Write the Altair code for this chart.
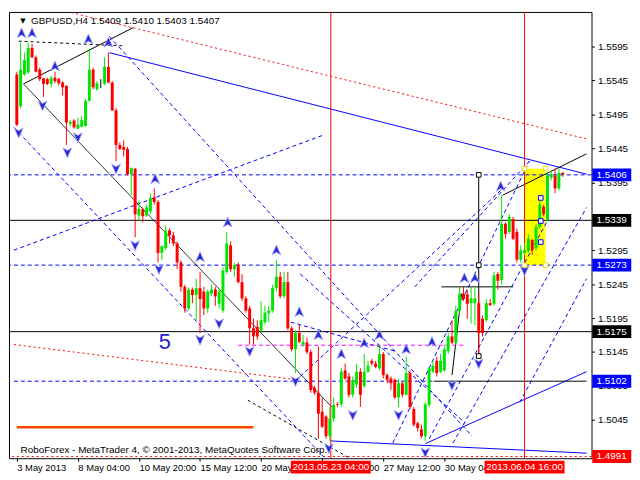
import altair as alt
import pandas as pd

# ---------------- candle data (H4 bars, GBPUSD) ----------------
OPEN = [1.5554, 1.5507, 1.5554, 1.5557, 1.5593, 1.5579, 1.5561, 1.5548, 1.5547, 1.5540,
        1.5549, 1.5547, 1.5542, 1.5537, 1.5481, 1.5486, 1.5474, 1.5477, 1.5478, 1.5515,
        1.5561, 1.5532, 1.5540, 1.5540, 1.5565, 1.5542, 1.5501, 1.5450, 1.5447, 1.5444,
        1.5407, 1.5415, 1.5346, 1.5355, 1.5346, 1.5352, 1.5373, 1.5366, 1.5291, 1.5298,
        1.5324, 1.5317, 1.5305, 1.5277, 1.5241, 1.5209, 1.5237, 1.5229, 1.5239, 1.5234,
        1.5209, 1.5231, 1.5237, 1.5216, 1.5206, 1.5263, 1.5302, 1.5267, 1.5274, 1.5248,
        1.5224, 1.5209, 1.5180, 1.5182, 1.5177, 1.5189, 1.5202, 1.5206, 1.5239, 1.5256,
        1.5227, 1.5248, 1.5180, 1.5149, 1.5173, 1.5156, 1.5159, 1.5145, 1.5092, 1.5085,
        1.5057, 1.5050, 1.5021, 1.5047, 1.5068, 1.5068, 1.5118, 1.5109, 1.5082, 1.5097,
        1.5116, 1.5095, 1.5116, 1.5132, 1.5128, 1.5121, 1.5142, 1.5111, 1.5106, 1.5104,
        1.5078, 1.5099, 1.5082, 1.5114, 1.5061, 1.5040, 1.5031, 1.5021, 1.5067, 1.5116,
        1.5132, 1.5116, 1.5118, 1.5146, 1.5168, 1.5159, 1.5206, 1.5231, 1.5230, 1.5217,
        1.5217, 1.5217, 1.5194, 1.5192, 1.5217, 1.5216, 1.5260, 1.5251, 1.5334, 1.5322,
        1.5341, 1.5322, 1.5281, 1.5291, 1.5294, 1.5310, 1.5298, 1.5329, 1.5359, 1.5341,
        1.5402, 1.5405, 1.5386, 1.5409]
HIGH = [1.5558, 1.5601, 1.5586, 1.5601, 1.5599, 1.5582, 1.5564, 1.5549, 1.5549, 1.5552,
        1.5558, 1.5549, 1.5544, 1.5538, 1.5487, 1.5488, 1.5490, 1.5493, 1.5518, 1.5592,
        1.5564, 1.5544, 1.5547, 1.5579, 1.5586, 1.5544, 1.5504, 1.5454, 1.5457, 1.5447,
        1.5417, 1.5416, 1.5368, 1.5358, 1.5362, 1.5379, 1.5386, 1.5369, 1.5302, 1.5331,
        1.5327, 1.5322, 1.5308, 1.5280, 1.5244, 1.5240, 1.5240, 1.5253, 1.5263, 1.5241,
        1.5237, 1.5244, 1.5241, 1.5239, 1.5270, 1.5322, 1.5308, 1.5277, 1.5277, 1.5260,
        1.5227, 1.5213, 1.5194, 1.5192, 1.5220, 1.5213, 1.5213, 1.5244, 1.5281, 1.5263,
        1.5263, 1.5263, 1.5183, 1.5177, 1.5185, 1.5170, 1.5166, 1.5149, 1.5095, 1.5153,
        1.5078, 1.5052, 1.5064, 1.5078, 1.5071, 1.5121, 1.5128, 1.5114, 1.5109, 1.5128,
        1.5121, 1.5142, 1.5132, 1.5135, 1.5132, 1.5156, 1.5145, 1.5114, 1.5109, 1.5106,
        1.5106, 1.5102, 1.5138, 1.5118, 1.5064, 1.5042, 1.5038, 1.5071, 1.5123, 1.5132,
        1.5138, 1.5142, 1.5156, 1.5173, 1.5192, 1.5213, 1.5241, 1.5241, 1.5237, 1.5241,
        1.5239, 1.5231, 1.5199, 1.5223, 1.5223, 1.5263, 1.5263, 1.5376, 1.5336, 1.5348,
        1.5344, 1.5327, 1.5302, 1.5305, 1.5319, 1.5312, 1.5334, 1.5369, 1.5362, 1.5409,
        1.5412, 1.5415, 1.5415, 1.5410]
LOW = [1.5478, 1.5504, 1.5552, 1.5555, 1.5578, 1.5557, 1.5544, 1.5521, 1.5538, 1.5535,
       1.5541, 1.5538, 1.5523, 1.5450, 1.5478, 1.5474, 1.5473, 1.5476, 1.5477, 1.5514,
       1.5532, 1.5530, 1.5534, 1.5538, 1.5541, 1.5500, 1.5426, 1.5443, 1.5433, 1.5405,
       1.5376, 1.5314, 1.5339, 1.5336, 1.5344, 1.5348, 1.5362, 1.5277, 1.5280, 1.5295,
       1.5305, 1.5301, 1.5267, 1.5234, 1.5203, 1.5206, 1.5217, 1.5192, 1.5173, 1.5199,
       1.5203, 1.5227, 1.5213, 1.5209, 1.5203, 1.5260, 1.5263, 1.5256, 1.5246, 1.5220,
       1.5203, 1.5156, 1.5156, 1.5163, 1.5173, 1.5185, 1.5189, 1.5203, 1.5234, 1.5224,
       1.5224, 1.5177, 1.5146, 1.5114, 1.5158, 1.5153, 1.5142, 1.5085, 1.5082, 1.5017,
       1.5033, 1.5017, 1.5014, 1.5042, 1.5064, 1.5064, 1.5104, 1.5078, 1.5078, 1.5092,
       1.5064, 1.5092, 1.5114, 1.5125, 1.5121, 1.5118, 1.5106, 1.5099, 1.5089, 1.5076,
       1.5064, 1.5078, 1.5081, 1.5061, 1.5035, 1.5028, 1.5018, 1.5014, 1.5064, 1.5114,
       1.5109, 1.5114, 1.5116, 1.5142, 1.5156, 1.5156, 1.5202, 1.5220, 1.5194, 1.5187,
       1.5185, 1.5139, 1.5168, 1.5189, 1.5213, 1.5213, 1.5237, 1.5244, 1.5312, 1.5319,
       1.5310, 1.5277, 1.5277, 1.5288, 1.5291, 1.5288, 1.5294, 1.5327, 1.5345, 1.5338,
       1.5398, 1.5379, 1.5383, 1.5403]
CLOSE = [1.5480, 1.5561, 1.5575, 1.5593, 1.5579, 1.5558, 1.5547, 1.5540, 1.5540, 1.5549,
         1.5544, 1.5541, 1.5535, 1.5483, 1.5484, 1.5476, 1.5480, 1.5487, 1.5515, 1.5561,
         1.5535, 1.5541, 1.5540, 1.5565, 1.5542, 1.5501, 1.5450, 1.5444, 1.5443, 1.5407,
         1.5416, 1.5348, 1.5356, 1.5345, 1.5358, 1.5372, 1.5366, 1.5291, 1.5301, 1.5324,
         1.5317, 1.5305, 1.5277, 1.5241, 1.5209, 1.5237, 1.5229, 1.5239, 1.5223, 1.5209,
         1.5234, 1.5237, 1.5227, 1.5234, 1.5265, 1.5305, 1.5267, 1.5273, 1.5248, 1.5224,
         1.5206, 1.5180, 1.5168, 1.5168, 1.5192, 1.5203, 1.5206, 1.5239, 1.5256, 1.5227,
         1.5248, 1.5180, 1.5149, 1.5173, 1.5160, 1.5160, 1.5145, 1.5089, 1.5085, 1.5054,
         1.5035, 1.5021, 1.5047, 1.5067, 1.5067, 1.5116, 1.5106, 1.5082, 1.5104, 1.5116,
         1.5082, 1.5116, 1.5125, 1.5128, 1.5123, 1.5142, 1.5111, 1.5104, 1.5099, 1.5078,
         1.5099, 1.5082, 1.5114, 1.5064, 1.5038, 1.5033, 1.5021, 1.5068, 1.5121, 1.5125,
         1.5114, 1.5132, 1.5149, 1.5168, 1.5159, 1.5206, 1.5231, 1.5223, 1.5216, 1.5224,
         1.5224, 1.5173, 1.5173, 1.5217, 1.5214, 1.5258, 1.5250, 1.5334, 1.5319, 1.5344,
         1.5312, 1.5281, 1.5295, 1.5295, 1.5312, 1.5295, 1.5329, 1.5362, 1.5348, 1.5405,
         1.5407, 1.5386, 1.5409, 1.5407]

# ---------------- axes ----------------
PRICE_TICKS = [1.5595, 1.5545, 1.5495, 1.5445, 1.5395, 1.5345, 1.5295, 1.5245,
               1.5195, 1.5145, 1.5095, 1.5045, 1.4995]
TIME_BARS = [0, 16, 32, 48, 64, 80, 96, 112]
TIME_LABELS = ["3 May 2013", "8 May 04:00", "10 May 20:00", "15 May 12:00",
               "20 May 04:00", "22 May 20:00", "27 May 12:00", "30 May 04:00"]

# ---------------- horizontal levels (full width) ----------------
LEVEL_PRICE = [1.5339, 1.5175, 1.5406, 1.5273, 1.4991]
LEVEL_STYLE = ["black", "black", "blue_dash", "blue_dash", "red_dash"]

# ---------------- drawn objects: (bar1, price1, bar2, price2, style) ----------------
SEG_B1 = [24.25, 14.25, -0.75, 1.75, 1.75, 60.5, 127.25, 121, 114, 111.25, 0.5, 58, 0, 109.25,
          82.25, 107, -0.75, -0.75, 24.25, 98.5, 108, 114.25, 131.75, 74.25, 71.75, 104.25, 74.25,
          -0.75]
SEG_P1 = [1.5586, 1.5645, 1.5156, 1.5540, 1.5540, 1.5074, 1.5376, 1.5406, 1.5111, 1.5241, 1.5603,
          1.5155, 1.5034, 1.5102, 1.5014, 1.5010, 1.5295, 1.5476, 1.5610, 1.5011, 1.5017, 1.5011,
          1.5071, 1.5109, 1.5189, 1.5241, 1.5260, 1.5102]
SEG_B2 = [149.25, 149.25, 73.5, 30.5, 82.5, 86.75, 149.25, 121, 116.5, 130, 28, 117.5, 62, 149.25,
          149.25, 149.25, 80, 80.5, 119.25, 134.25, 139.25, 149.25, 149.25, 126.75, 99.25, 134.25,
          117.5, 109.25]
SEG_P2 = [1.5407, 1.5459, 1.5104, 1.5623, 1.5064, 1.4990, 1.5437, 1.5139, 1.5231, 1.5241, 1.5596,
          1.5155, 1.5034, 1.5102, 1.4996, 1.5116, 1.5464, 1.4990, 1.5021, 1.5426, 1.5341, 1.5358,
          1.5253, 1.5383, 1.5146, 1.5426, 1.5040, 1.5102]
SEG_STYLE = ["blue_solid", "red_dash", "red_dash", "black", "black_thin", "black_dash", "black",
             "black", "black", "black", "black_dash", "magenta_dash", "orange", "black",
             "blue_solid", "blue_solid", "blue_dash", "blue_dash", "blue_dash", "blue_dash",
             "blue_dash", "blue_dash", "blue_dash", "blue_dash", "blue_dash", "blue_dash",
             "blue_dash", "blue_dash"]

# vertical marker lines (bar positions)
VLINE_BARS = [82.25, 133]
VLINE_LABELS = ["2013.05.23 04:00", "2013.06.04 16:00"]

# highlighted rectangle
RECT_B1, RECT_B2, RECT_P1, RECT_P2 = 133, 138.5, 1.5415, 1.5273

# fractal arrows
UP_B = [1.25, 4, 18.75, 24, 10, 36.25, 55.25, 48, 68, 74, 79, 85, 91, 95, 102, 108.75, 117.25, 120, 126.75]
UP_P = [1.5615, 1.5615, 1.5606, 1.5601, 1.5566, 1.5400, 1.5336, 1.5285, 1.5295, 1.5204, 1.5170,
        1.5142, 1.5158, 1.5170, 1.5149, 1.5160, 1.5254, 1.5254, 1.5389]
DN_B = [0.5, 6.75, 13.25, 16, 26, 31, 37.25, 48, 53, 61, 73, 81.75, 88, 100, 107, 114, 121, 133]
DN_P = [1.5468, 1.5508, 1.5439, 1.5461, 1.5415, 1.5302, 1.5267, 1.5163, 1.5187, 1.5146, 1.5102,
        1.5003, 1.5052, 1.5052, 1.4997, 1.5096, 1.5128, 1.5265]

# object anchor squares
SQ_B = [121, 121, 121, 137.25, 137.25, 137.25, 133, 138.5, 133, 138.5]
SQ_P = [1.5406, 1.5273, 1.5139, 1.5372, 1.5338, 1.5307, 1.5415, 1.5415, 1.5273, 1.5273]
SQ_COL = ["#000000", "#000000", "#000000", "#0000ff", "#0000ff", "#0000ff",
          "#e8d800", "#e8d800", "#e8d800", "#e8d800"]

# price labels on the right scale
TAG_PRICE = [1.5406, 1.5339, 1.5273, 1.5175, 1.5102, 1.4991]
TAG_COL = ["#0000ff", "#000000", "#0000ff", "#000000", "#0000ff", "#ff0000"]

HEADER = "GBPUSD,H4  1.5409 1.5410 1.5403 1.5407"
FOOTER = "RoboForex - MetaTrader 4, \u00a9 2001-2013, MetaQuotes Software Corp."
WAVE_LABEL = "5"

# ---------------- chart ----------------
W, H = 590, 452
FONT = "Liberation Sans"
XS = alt.Scale(domain=[-0.75, 149.25], nice=False, zero=False)
YS = alt.Scale(domain=[1.49885, 1.5646], nice=False, zero=False)

label_expr = "".join(f"datum.value == {b} ? '{t}' : " for b, t in zip(TIME_BARS, TIME_LABELS)) + "''"

X_AXIS = alt.Axis(values=TIME_BARS, labelExpr=label_expr, labelAlign="left", labelPadding=1,
                  tickSize=3, tickColor="black", domain=False, grid=False, title=None,
                  labelFont=FONT, labelFontSize=9.5, labelColor="black", labelOverlap=False,
                  labelFlush=False, zindex=0)
Y_AXIS = alt.Axis(orient="right", values=PRICE_TICKS, format=".4f", tickSize=3, tickColor="black",
                  domain=False, grid=False, title=None, labelFont=FONT, labelFontSize=10,
                  labelColor="black", labelPadding=3, labelOverlap=False, labelFlush=False, zindex=0)


def ex(f):
    return alt.X(f"{f}:Q", scale=XS, axis=X_AXIS, title=None)


def ey(f):
    return alt.Y(f"{f}:Q", scale=YS, axis=Y_AXIS, title=None)


n = len(OPEN)
cdf = pd.DataFrame({"i": list(range(n)), "o": OPEN, "h": HIGH, "l": LOW, "c": CLOSE})
cdf["col"] = ["#00e600" if c > o else ("#ff0000" if c < o else "#000000")
              for o, c in zip(OPEN, CLOSE)]

STYLES = {
    "blue_solid": dict(color="#0000ff", strokeWidth=1),
    "blue_dash": dict(color="#0000ff", strokeWidth=1, strokeDash=[4, 3]),
    "red_dash": dict(color="#ff0000", strokeWidth=1, strokeDash=[2, 3]),
    "black": dict(color="#000000", strokeWidth=1),
    "black_thin": dict(color="#000000", strokeWidth=0.8),
    "black_dash": dict(color="#000000", strokeWidth=1, strokeDash=[3, 3]),
    "magenta_dash": dict(color="#ff00ff", strokeWidth=1, strokeDash=[4, 3]),
    "orange": dict(color="#ff4500", strokeWidth=2.5),
}

layers = []

# yellow rectangle (behind everything)
rect_df = pd.DataFrame({"b1": [RECT_B1], "b2": [RECT_B2], "p1": [RECT_P1], "p2": [RECT_P2]})
layers.append(alt.Chart(rect_df).mark_rect(color="#ffff00").encode(
    x=ex("b1"), x2="b2:Q", y=ey("p1"), y2="p2:Q"))

# full width levels
lev_df = pd.DataFrame({"p": LEVEL_PRICE, "s": LEVEL_STYLE})
for s in sorted(set(LEVEL_STYLE)):
    layers.append(alt.Chart(lev_df[lev_df.s == s]).mark_rule(**STYLES[s]).encode(y=ey("p")))

# drawn segments
seg_df = pd.DataFrame({"b1": SEG_B1, "p1": SEG_P1, "b2": SEG_B2, "p2": SEG_P2, "s": SEG_STYLE})
for s, st in STYLES.items():
    sub = seg_df[seg_df.s == s]
    if len(sub):
        layers.append(alt.Chart(sub).mark_rule(**st).encode(
            x=ex("b1"), y=ey("p1"), x2="b2:Q", y2="p2:Q"))

# vertical red lines
vl_df = pd.DataFrame({"b": VLINE_BARS, "t": VLINE_LABELS})
layers.append(alt.Chart(vl_df).mark_rule(color="#ff0000", strokeWidth=1).encode(x=ex("b")))

# candles
layers.append(alt.Chart(cdf).mark_rule(strokeWidth=1).encode(
    x=ex("i"), y=ey("l"), y2="h:Q", color=alt.Color("col:N", scale=None)))
layers.append(alt.Chart(cdf).mark_bar(size=3).encode(
    x=ex("i"), y=ey("o"), y2="c:Q", color=alt.Color("col:N", scale=None)))

# fractal arrows
UP_PATH = "M0,-1L0.85,0.9L0,0.4L-0.85,0.9Z"
DN_PATH = "M0,1L0.85,-0.9L0,-0.4L-0.85,-0.9Z"
up_df = pd.DataFrame({"b": UP_B, "p": UP_P})
dn_df = pd.DataFrame({"b": DN_B, "p": DN_P})
for d, path in ((up_df, UP_PATH), (dn_df, DN_PATH)):
    layers.append(alt.Chart(d).mark_point(shape=path, size=110, filled=True, fill="#2a2ad4",
                                          stroke="#a8a8ff", strokeWidth=0.8, opacity=1).encode(
        x=ex("b"), y=ey("p")))

# anchor squares
sq_df = pd.DataFrame({"b": SQ_B, "p": SQ_P, "col": SQ_COL})
layers.append(alt.Chart(sq_df).mark_point(shape="square", size=22, filled=True, fill="white",
                                          strokeWidth=1, opacity=1).encode(
    x=ex("b"), y=ey("p"), stroke=alt.Stroke("col:N", scale=None)))

# texts inside the plot
head_df = pd.DataFrame({"b": [3.75], "p": [1.5632], "t": [HEADER]})
layers.append(alt.Chart(head_df).mark_text(align="left", baseline="middle", font=FONT, fontSize=10,
                                           color="black").encode(x=ex("b"), y=ey("p"), text="t:N"))
tri_df = pd.DataFrame({"b": [1.6], "p": [1.5632], "t": ["\u25bc"]})
layers.append(alt.Chart(tri_df).mark_text(align="center", baseline="middle", font="DejaVu Sans",
                                          fontSize=7, color="black").encode(x=ex("b"), y=ey("p"), text="t:N"))
foot_df = pd.DataFrame({"b": [1.0], "p": [1.5000], "t": [FOOTER]})
layers.append(alt.Chart(foot_df).mark_text(align="left", baseline="middle", font=FONT, fontSize=10,
                                           color="black").encode(x=ex("b"), y=ey("p"), text="t:N"))
wave_df = pd.DataFrame({"b": [38.75], "p": [1.5160], "t": [WAVE_LABEL]})
layers.append(alt.Chart(wave_df).mark_text(align="center", baseline="middle", font=FONT, fontSize=22,
                                           color="#1c1cd0").encode(x=ex("b"), y=ey("p"), text="t:N"))

# price tags on the right axis
tag_df = pd.DataFrame({"p": TAG_PRICE, "col": TAG_COL, "t": [f"{v:.4f}" for v in TAG_PRICE]})
layers.append(alt.Chart(tag_df).mark_point(shape="M-1,-0.33L1,-0.33L1,0.33L-1,0.33Z", size=1560,
                                           filled=True, opacity=1, strokeWidth=0).encode(
    x=alt.value(W + 20.5), y=ey("p"), fill=alt.Fill("col:N", scale=None)))
layers.append(alt.Chart(tag_df).mark_text(align="left", baseline="middle", font=FONT, fontSize=10,
                                          color="white").encode(
    x=alt.value(W + 5), y=ey("p"), text="t:N"))

# time tags under the x axis
layers.append(alt.Chart(vl_df).mark_point(shape="M-1,-0.16L1,-0.16L1,0.16L-1,0.16Z", size=6561,
                                          filled=True, fill="#ff0000", opacity=1, strokeWidth=0).encode(
    x=ex("b"), y=alt.value(H + 9)))
layers.append(alt.Chart(vl_df).mark_text(align="center", baseline="middle", font=FONT, fontSize=10,
                                         color="white").encode(
    x=ex("b"), y=alt.value(H + 9), text="t:N"))

chart = alt.layer(*layers).properties(
    width=W, height=H, background="white",
    padding={"left": 0, "top": 0, "right": 0, "bottom": 0},
).configure_view(stroke="black", strokeWidth=1)

chart.save("out.html", embed_options={"renderer": "svg", "actions": False})
